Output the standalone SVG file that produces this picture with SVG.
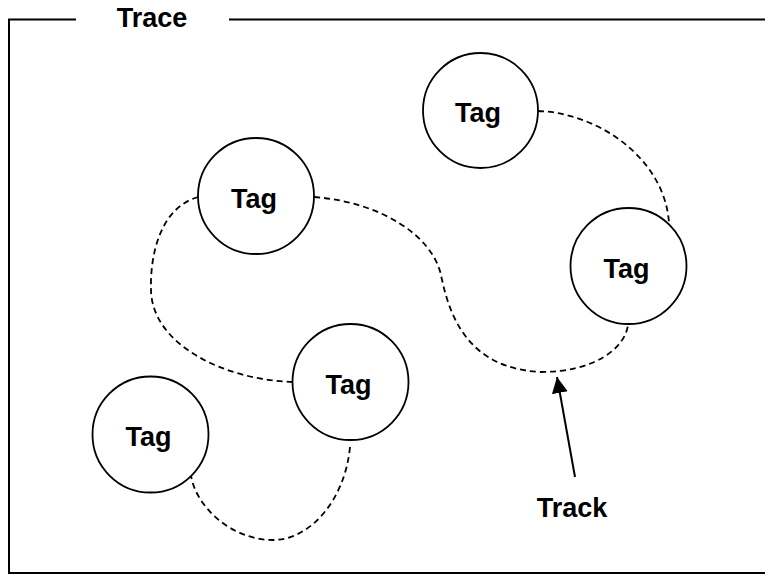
<svg xmlns="http://www.w3.org/2000/svg" width="765" height="575" viewBox="0 0 765 575">
<defs>
<style>
.frame{fill:none;stroke:#000;stroke-width:2}
.node circle{fill:#fff;stroke:#000;stroke-width:1.8}
.lbl{font-family:"Liberation Sans",Arial,sans-serif;font-weight:bold;font-size:27px;fill:#000;text-anchor:middle}
.track{fill:none;stroke:#000;stroke-width:1.8;stroke-dasharray:6 4}
.arrow{fill:none;stroke:#000;stroke-width:2}
</style>
<marker id="ah" viewBox="0 0 16 16" refX="16" refY="8" markerWidth="16" markerHeight="16" markerUnits="userSpaceOnUse" orient="auto">
<path d="M0,0 L16,8 L0,16 z" fill="#000"/>
</marker>
</defs>
<rect width="765" height="575" fill="#fff"/>
<g id="frame">
<path class="frame" d="M76,19.5 H9 V573 H770"/>
<path class="frame" d="M229,19.5 H770"/>
<text class="lbl" x="152" y="27">Trace</text>
</g>
<g id="connectors">
<path class="track" d="M538,111 C600,113 665,160 669,223"/>
<path class="track" d="M314,197 C380,202 432,235 441,275 C450,320 470,368 540,372 C595,372 625,348 628,325"/>
<path class="track" d="M198,197 C160,208 150,255 151,290 C152,345 225,380 293,382"/>
<path class="track" d="M350,447 C345,500 310,540 273,540 C230,540 195,505 191,475"/>
<line class="arrow" x1="575" y1="477" x2="557" y2="377" marker-end="url(#ah)"/>
<text class="lbl" x="572" y="517">Track</text>
</g>
<g id="tag1" class="node"><circle cx="480.5" cy="110.5" r="57.5"/><text class="lbl" x="478" y="122">Tag</text></g>
<g id="tag2" class="node"><circle cx="628.5" cy="266" r="58"/><text class="lbl" x="626.5" y="277.5">Tag</text></g>
<g id="tag3" class="node"><circle cx="256" cy="196" r="58"/><text class="lbl" x="254" y="207.5">Tag</text></g>
<g id="tag4" class="node"><circle cx="350.5" cy="382" r="58"/><text class="lbl" x="348.5" y="393.5">Tag</text></g>
<g id="tag5" class="node"><circle cx="150.5" cy="434.5" r="58"/><text class="lbl" x="148.5" y="446">Tag</text></g>
</svg>
